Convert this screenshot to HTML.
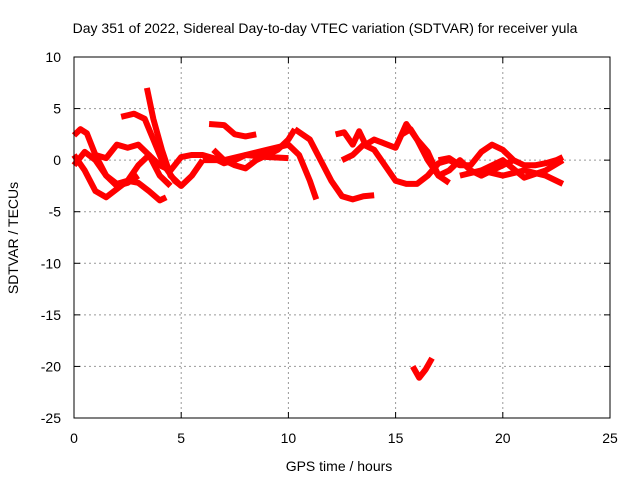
<!DOCTYPE html>
<html><head><meta charset="utf-8"><style>
body{margin:0;background:#fff}
svg{display:block;font-family:"Liberation Sans",sans-serif}
</style></head><body>
<svg id="c" width="640" height="480">
<text x="325" y="33" font-size="14" text-anchor="middle">Day 351 of 2022, Sidereal Day-to-day VTEC variation (SDTVAR) for receiver yula</text>
<text x="339" y="471" font-size="14" text-anchor="middle">GPS time / hours</text>
<text x="18" y="238" font-size="14" text-anchor="middle" transform="rotate(-90 18 238)">SDTVAR / TECUs</text>
<g id="grid"></g><g id="marks"></g>
<rect x="74" y="57" width="536" height="361" fill="none" stroke="#000"/>
</svg>
<script>
const xTicks=[0,5,10,15,20,25];
const yTicks=[10,5,0,-5,-10,-15,-20,-25];
const seriesHours=[
[0,0.3,0.6,1,1.5,2,2.5,3,3.5,4,4.5],
[0,0.5,1,1.5,2,2.5,3,3.5,4,4.3],
[0,0.5,1,1.5,2,2.5,3],
[2.2,2.8,3.3,3.7,4.2,4.7,5],
[3.4,3.7,4.1,4.5,5,5.5,6],
[1,1.5,2,2.5,3,3.5,4,4.5,5,5.5,6,6.5,7,7.5,8],
[6.3,7,7.5,8,8.5],
[6.5,7,7.5,8,8.5,9,9.5,10,10.3],
[8,9,10,10.5,11,11.3],
[10.3,11,11.5,12,12.5,13,13.5,14],
[6,7,8,9,10],
[12.2,12.6,13,13.3,13.6,14,14.5,15,15.5,16,16.5,17,17.5],
[12.5,13,13.5,14,14.5,15,15.5,16,16.5,17,17.5,18],
[15.3,15.7,16,16.5,17,17.5,18,18.5,19,19.5,20,20.5],
[17,17.5,18,18.5,19,19.5,20,20.5,21,21.5,22,22.5,22.8],
[18,19,20,21,22,22.8],
[19,20,21,22,22.8],
[15.8,16.1,16.4,16.7]];
const seriesValues=[
[2.4,3,2.6,0.5,-1.5,-2.3,-2,-0.5,0.5,-1.5,-2.5],
[0.5,-1,-3,-3.6,-2.8,-2,-2.2,-3,-3.9,-3.6],
[-0.5,0.8,0,-1.5,-2.5,-2.2,-1.5],
[4.2,4.5,4,2,-0.5,-2,-2.5],
[7,4,1,-1.5,-2.5,-1.5,0],
[0.5,0.2,1.5,1.2,1.5,0.5,-0.5,-1,0.3,0.5,0.5,0.2,-0.3,0,0.5],
[3.5,3.4,2.5,2.3,2.5],
[1,0,-0.5,-0.8,0,0.5,1,2,3],
[0.5,1,1.5,0.5,-2,-3.8],
[3,2,0,-2,-3.5,-3.8,-3.5,-3.4],
[0,0,0.5,0.3,0.2],
[2.5,2.7,1.5,2.8,1.5,2,1.6,1.2,3.5,2,0,-1.5,-2.2],
[0,0.5,1.5,1,-0.5,-2,-2.3,-2.3,-1.5,-0.3,0,-0.5],
[2.5,3,2,0.8,-1.5,-1,0,-1,-1.5,-1,-0.5,0],
[0,0.2,-0.5,-0.5,0.8,1.5,1,0,-0.5,-0.5,-0.3,0,0.3],
[-1.5,-1,-1.5,-1,-1.5,-2.3],
[-1,0,-1.7,-1,0],
[-20,-21.1,-20.3,-19.2]];
const X=h=>74+h*536/25, Y=v=>57+(10-v)*361/35;
const ns="http://www.w3.org/2000/svg";
const g=document.getElementById('grid'), m=document.getElementById('marks');
function el(t,a,p){const e=document.createElementNS(ns,t);for(const k in a)e.setAttribute(k,a[k]);p.appendChild(e);return e;}
xTicks.forEach(t=>{
 if(t>0&&t<25){const l=el('line',{x1:X(t),x2:X(t),y1:57,y2:418,stroke:'#999','stroke-dasharray':'2,3'},g);
 
 }
 const tx=el('text',{x:X(t),y:443,'font-size':14,'text-anchor':'middle'},g);tx.textContent=t;
 
 
 el('line',{x1:X(t),x2:X(t),y1:418,y2:412,stroke:'#000'},g);el('line',{x1:X(t),x2:X(t),y1:57,y2:63,stroke:'#000'},g);
});
yTicks.forEach(t=>{
 if(t<10&&t>-25){const l=el('line',{x1:74,x2:610,y1:Y(t),y2:Y(t),stroke:'#999','stroke-dasharray':'2,3'},g);
 
 }
 const tx=el('text',{x:61,y:Y(t)+5,'font-size':14,'text-anchor':'end'},g);tx.textContent=t;
 
 
 el('line',{x1:74,x2:80,y1:Y(t),y2:Y(t),stroke:'#000'},g);el('line',{x1:604,x2:610,y1:Y(t),y2:Y(t),stroke:'#000'},g);
});
seriesHours.forEach((hs,i)=>{
 const pts=hs.map((h,j)=>X(h)+','+Y(seriesValues[i][j])).join(' ');
 const p=el('polyline',{points:pts,fill:'none',stroke:'#f00','stroke-width':6,'stroke-linejoin':'round'},m);
 
 
});
</script>
</body></html>
